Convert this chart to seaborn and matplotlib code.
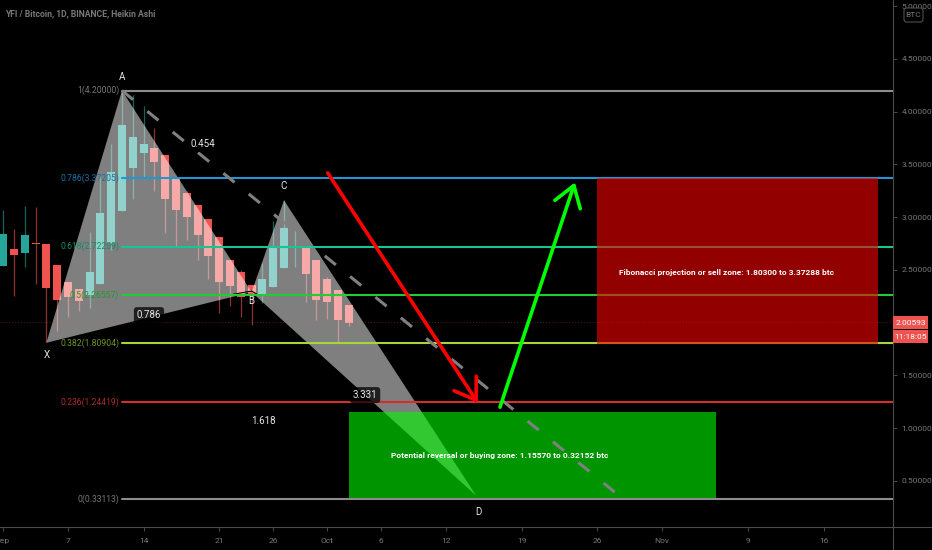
import pandas as pd
import matplotlib
matplotlib.use("Agg")
import matplotlib.pyplot as plt
from matplotlib.lines import Line2D
from matplotlib.patches import FancyBboxPatch, Rectangle
from matplotlib.transforms import IdentityTransform
import seaborn as sns

# Visual settings
FONT_TICKS = 6
FONT_FIB = 6.2
FONT_BOX = 6
FONT_POINT = 7
TEAL = "#26a69a"
RED = "#ef5350"
AXIS_GRAY = "#4a4a4a"
TEXT_GRAY = "#787878"

# Candles: days counted from 7 Sep
days = list(range(-6, 27))
opens = [2.54, 2.70, 2.66, 2.76, 2.75, 2.55, 2.39, 2.32, 2.26, 2.37, 2.76, 3.06, 3.47, 3.61, 3.66, 3.59, 3.36,
         3.23, 3.12, 2.98, 2.81, 2.59, 2.48, 2.36, 2.27, 2.34, 2.52, 2.72, 2.71, 2.59, 2.41, 2.31, 2.17]
closes = [2.84, 2.64, 2.83, 2.75, 2.33, 2.22, 2.24, 2.21, 2.48, 3.04, 3.43, 3.87, 3.76, 3.69, 3.52, 3.17, 3.07,
          3.00, 2.83, 2.63, 2.39, 2.35, 2.24, 2.26, 2.41, 2.71, 2.90, 2.73, 2.46, 2.22, 2.20, 2.03, 2.00]
highs = [3.07, 2.89, 3.11, 3.10, 2.75, 2.55, 2.39, 2.32, 2.86, 3.38, 3.69, 4.20, 4.16, 4.05, 3.85, 3.59, 3.36,
         3.25, 3.12, 2.98, 2.81, 2.59, 2.50, 2.36, 2.57, 2.96, 3.16, 2.87, 2.71, 2.59, 2.43, 2.31, 2.17]
lows = [2.54, 2.25, 2.53, 2.37, 1.82, 1.92, 2.05, 2.11, 2.14, 2.37, 2.69, 3.06, 3.17, 3.37, 3.25, 2.85, 2.73,
        2.78, 2.59, 2.41, 2.09, 2.16, 2.05, 1.98, 2.19, 2.34, 2.52, 2.53, 2.20, 2.03, 2.04, 1.82, 1.97]

# Fibonacci levels
fib_ratios = ["1", "0.786", "0.618", "0.5", "0.382", "0.236", "0"]
fib_prices = [4.20000, 3.37205, 2.72209, 2.26557, 1.80904, 1.24419, 0.33113]
fib_colors = ["#8c8c8c", "#2196d3", "#16c794", "#22cc33", "#a5d63a", "#d32f2f", "#8c8c8c"]
fib_label_colors = ["#767676", "#1b6f9f", "#128a68", "#1f9a2b", "#6f9428", "#b02a2a", "#767676"]
fib_start = 5
fib_end = 76.4

# Harmonic pattern
pattern_names = ["X", "A", "B", "C", "D"]
pattern_days = [-2, 5, 17, 20, 37.8]
pattern_prices = [1.81, 4.20, 2.29, 3.16, 0.36]
point_label_days = [-2, 5, 17, 20, 38]
point_label_prices = [1.69, 4.33, 2.21, 3.30, 0.205]
b_mark_days = [15.3, 17, 17.5]
b_mark_prices = [2.27, 2.30, 2.27]

# Ratio labels
ratio_texts = ["0.454", "0.786", "3.331", "1.618"]
ratio_days = [12.5, 7.5, 27.5, 18.05]
ratio_prices = [3.694, 2.073, 1.315, 1.068]

# Projection line and arrows
dash_days = [5, 51.4]
dash_prices = [4.20, 0.33]
red_arrow_days = [24.05, 37.95]
red_arrow_prices = [3.42, 1.24]
green_arrow_days = [40.0, 46.94]
green_arrow_prices = [1.20, 3.33]

# Zones
sell_days = [49.0, 75.0]
sell_prices = [1.80300, 3.37288]
sell_text = "Fibonacci projection or sell zone: 1.80300 to 3.37288 btc"
buy_days = [26.0, 60.0]
buy_prices = [0.34, 1.15570]
buy_text = "Potential reversal or buying zone: 1.15570 to 0.32152 btc"

# Axes
last_price = 2.00593
countdown = "11:18:05"
x_ticks = [-6, 0, 7, 14, 19, 24, 29, 35, 42, 49, 55, 63, 70]
x_labels = ["Sep", "7", "14", "21", "26", "Oct", "6", "12", "19", "26", "Nov", "9", "16"]
y_ticks = [0.5, 1.0, 1.5, 2.5, 3.0, 3.5, 4.0, 4.5, 5.0]
title = "YFI / Bitcoin, 1D, BINANCE, Heikin Ashi"


def draw_candles(ax):
    df = pd.DataFrame({"day": days, "open": opens, "close": closes, "high": highs, "low": lows})
    df["bottom"] = df[["open", "close"]].min(axis=1)
    df["height"] = (df["close"] - df["open"]).abs()
    df["up"] = df["close"] > df["open"]

    for is_up, color in [(True, TEAL), (False, RED)]:
        part = df[df["up"] == is_up]
        ax.vlines(part["day"], part["low"], part["high"], color=color, alpha=0.6, linewidth=0.9, zorder=2)
        sns.barplot(data=part, x="day", y="height", bottom=part["bottom"].values, native_scale=True,
                    width=0.74, color=color, saturation=1, errorbar=None, linewidth=0, ax=ax, zorder=2.1)


def draw_pattern(ax):
    # two translucent triangles XAB and BCD
    ax.fill(pattern_days[:3], pattern_prices[:3], color="white", alpha=0.5, linewidth=0, zorder=3)
    ax.fill(pattern_days[2:], pattern_prices[2:], color="white", alpha=0.5, linewidth=0, zorder=3)
    ax.plot(b_mark_days, b_mark_prices, color="black", linewidth=0.8, zorder=3.1)
    for name, x, y in zip(pattern_names, point_label_days, point_label_prices):
        ax.text(x, y, name, color="#e6e6e6", fontsize=FONT_POINT, ha="center", va="center", zorder=7)
    for txt, x, y in zip(ratio_texts, ratio_days, ratio_prices):
        ax.text(x, y, txt, color="#e6e6e6", fontsize=FONT_POINT, ha="center", va="center", zorder=7,
                bbox=dict(boxstyle="round,pad=0.3", fc="black", ec="none", alpha=0.75))


def draw_fib(ax):
    for ratio, price, color, label_color in zip(fib_ratios, fib_prices, fib_colors, fib_label_colors):
        line = pd.DataFrame({"x": [fib_start, fib_end], "y": [price, price]})
        sns.lineplot(data=line, x="x", y="y", color=color, linewidth=1.5, errorbar=None, ax=ax, zorder=3.5)
        ax.annotate(f"{ratio}({price:.5f})", (fib_start, price), xytext=(-2, 0), textcoords="offset points",
                    color=label_color, fontsize=FONT_FIB, ha="right", va="center", zorder=3.6)
    ax.axhline(last_price, color=RED, alpha=0.35, linewidth=0.7, linestyle=(0, (1, 2)), zorder=3.5)


def draw_zones(ax):
    ax.add_patch(Rectangle((buy_days[0], buy_prices[0]), buy_days[1] - buy_days[0], buy_prices[1] - buy_prices[0],
                           facecolor=(0, 0.98, 0), alpha=0.6, linewidth=0, zorder=3.2))
    ax.add_patch(Rectangle((sell_days[0], sell_prices[0]), sell_days[1] - sell_days[0],
                           sell_prices[1] - sell_prices[0], facecolor=(0.96, 0, 0), alpha=0.6,
                           linewidth=0, zorder=4))
    ax.text(60.97, 2.474, sell_text, color="white", fontsize=FONT_BOX, fontweight="bold",
            ha="center", va="center", zorder=7)
    ax.text(40.0, 0.746, buy_text, color="white", fontsize=FONT_BOX, fontweight="bold",
            ha="center", va="center", zorder=7)


def draw_arrows(ax):
    ax.plot(dash_days, dash_prices, color="#808080", linewidth=2.2, linestyle=(0, (4.7, 6)), zorder=5)
    style = "->,head_length=1.2,head_width=0.8"
    ax.annotate("", xy=(red_arrow_days[1], red_arrow_prices[1]), xytext=(red_arrow_days[0], red_arrow_prices[0]),
                arrowprops=dict(arrowstyle=style, color="#ff0000", linewidth=2.6, shrinkA=0, shrinkB=0), zorder=6)
    ax.annotate("", xy=(green_arrow_days[1], green_arrow_prices[1]),
                xytext=(green_arrow_days[0], green_arrow_prices[0]),
                arrowprops=dict(arrowstyle=style, color="#00ff00", linewidth=2.6, shrinkA=0, shrinkB=0), zorder=6)


def draw_axes(fig, ax):
    ax.set_xlim(-6.296, 76.39)
    ax.set_ylim(0.064, 5.059)
    ax.set_xlabel("")
    ax.set_ylabel("")
    ax.grid(False)
    ax.yaxis.tick_right()
    ax.set_xticks(x_ticks, x_labels)
    ax.set_yticks(y_ticks, [f"{v:.5f}" for v in y_ticks])
    ax.tick_params(axis="both", length=3, width=0.7, color=AXIS_GRAY, labelcolor=TEXT_GRAY,
                   labelsize=FONT_TICKS, pad=3, bottom=True, right=True, left=False)
    ax.tick_params(axis="x", pad=5)
    for side in ["top", "left"]:
        ax.spines[side].set_visible(False)
    for side in ["bottom", "right"]:
        ax.spines[side].set_color(AXIS_GRAY)
        ax.spines[side].set_linewidth(0.8)
    # the scale lines run on to the edge of the picture
    fig.add_artist(Line2D([893 / 932, 1], [23 / 550] * 2, color=AXIS_GRAY, linewidth=0.8))
    fig.add_artist(Line2D([893 / 932] * 2, [0, 23 / 550], color=AXIS_GRAY, linewidth=0.8))

    # last price tags
    tag_transform = ax.get_yaxis_transform()
    for y0, y1, txt in [(1.940, 2.064, f"{last_price:.5f}"), (1.808, 1.931, countdown)]:
        ax.add_patch(Rectangle((1.0, y0), 0.0392, y1 - y0, transform=tag_transform, facecolor=RED, linewidth=0,
                               clip_on=False, zorder=8))
        ax.text(1.0196, (y0 + y1) / 2, txt, transform=tag_transform, color="white", fontsize=FONT_TICKS,
                ha="center", va="center", clip_on=False, zorder=9)

    fig.add_artist(FancyBboxPatch((904, 528), 19, 14, boxstyle="round,pad=0,rounding_size=2.5",
                                  transform=IdentityTransform(), facecolor="black", edgecolor="#5a5a5a",
                                  linewidth=0.7, zorder=10))
    fig.text(913.5 / 932, 535 / 550, "BTC", color=TEXT_GRAY, fontsize=FONT_TICKS, ha="center", va="center", zorder=11)
    fig.text(5 / 932, 536 / 550, title, color=TEXT_GRAY, fontsize=6.2, fontweight="bold", ha="left", va="center")


def main():
    sns.set_theme(style="dark", rc={"axes.facecolor": "black", "figure.facecolor": "black"})
    plt.rcParams["font.family"] = ["Roboto", "DejaVu Sans"]

    fig = plt.figure(figsize=(9.32, 5.5), dpi=100)
    ax = fig.add_axes([0, 23 / 550, 893 / 932, 527 / 550])

    draw_candles(ax)
    draw_pattern(ax)
    draw_fib(ax)
    draw_zones(ax)
    draw_arrows(ax)
    draw_axes(fig, ax)

    fig.savefig("out.png", dpi=100, facecolor="black")


if __name__ == "__main__":
    main()
